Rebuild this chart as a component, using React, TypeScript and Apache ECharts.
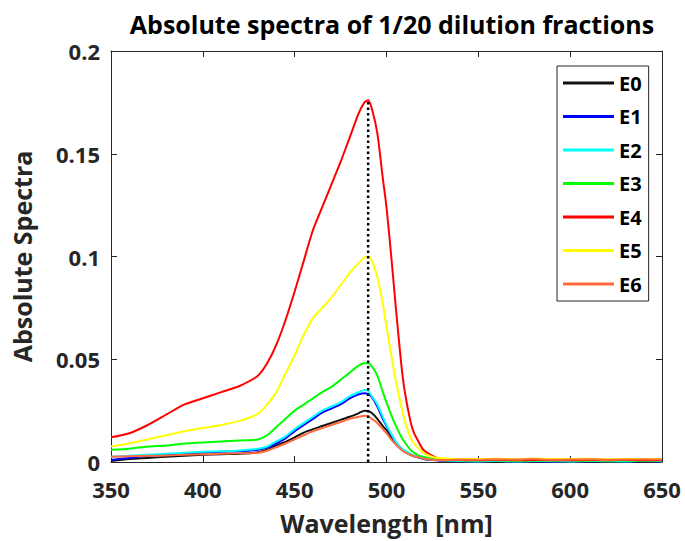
import React, { useEffect, useRef } from "react";
import * as echarts from "echarts";

const wavelengths = [
  350, 360, 370, 380, 390, 400, 410, 420, 430, 435, 440, 445, 450, 455, 460, 465, 470, 475, 480, 485,
  488, 490, 492, 495, 498, 500, 503, 505, 508, 510, 513, 515, 518, 520, 525, 530,
  540, 550, 560, 570, 580, 590, 600, 610, 620, 630, 640, 650,
];

const E0 = [
  0.0005, 0.0015, 0.002, 0.0025, 0.003, 0.0035, 0.0038, 0.004, 0.0048, 0.006, 0.008, 0.0098, 0.012, 0.0143, 0.016, 0.0175, 0.019, 0.0205, 0.022, 0.0238,
  0.025, 0.0248, 0.0238, 0.021, 0.0175, 0.0155, 0.0115, 0.0095, 0.0066, 0.005, 0.0038, 0.003, 0.0022, 0.0018, 0.0012, 0.0008,
  0.0006, 0.0005, 0.0007, 0.0004, 0.0006, 0.0005, 0.0004, 0.0006, 0.0005, 0.0007, 0.0004, 0.0005,
];
const E1 = [
  0.001, 0.002, 0.003, 0.0035, 0.004, 0.0045, 0.005, 0.0052, 0.006, 0.007, 0.009, 0.0115, 0.015, 0.018, 0.021, 0.024, 0.026, 0.028, 0.031, 0.033,
  0.0335, 0.033, 0.0315, 0.027, 0.021, 0.0175, 0.0125, 0.0097, 0.0063, 0.005, 0.0035, 0.0028, 0.002, 0.0015, 0.001, 0.0006,
  0.0004, 0.0003, 0.0005, 0.0003, 0.0004, 0.0002, 0.0004, 0.0003, 0.0005, 0.0003, 0.0004, 0.0003,
];
const E2 = [
  0.0025, 0.003, 0.0035, 0.004, 0.0045, 0.005, 0.0052, 0.0056, 0.0065, 0.0075, 0.01, 0.0125, 0.016, 0.019, 0.022, 0.025, 0.027, 0.029, 0.032, 0.034,
  0.035, 0.0345, 0.032, 0.028, 0.022, 0.018, 0.013, 0.01, 0.0066, 0.0055, 0.004, 0.003, 0.0022, 0.0018, 0.0012, 0.0008,
  0.0005, 0.0003, 0.0006, 0.0002, 0.0005, 0.0004, 0.0003, 0.0005, 0.0004, 0.0003, 0.0006, 0.0004,
];
const E3 = [
  0.006, 0.0065, 0.0075, 0.008, 0.009, 0.0095, 0.01, 0.0105, 0.011, 0.013, 0.017, 0.021, 0.025, 0.028, 0.031, 0.034, 0.0365, 0.04, 0.0435, 0.047,
  0.048, 0.048, 0.0465, 0.042, 0.034, 0.029, 0.022, 0.0178, 0.0123, 0.0095, 0.006, 0.0045, 0.003, 0.0025, 0.0015, 0.001,
  0.0008, 0.0007, 0.0009, 0.0006, 0.0008, 0.0007, 0.0009, 0.0006, 0.0008, 0.0007, 0.0006, 0.0008,
];
const E4 = [
  0.012, 0.014, 0.018, 0.023, 0.028, 0.031, 0.034, 0.037, 0.042, 0.048, 0.057, 0.069, 0.083, 0.098, 0.113, 0.124, 0.135, 0.146, 0.158, 0.17,
  0.175, 0.176, 0.172, 0.16, 0.138, 0.124, 0.096, 0.076, 0.048, 0.034, 0.02, 0.014, 0.009, 0.006, 0.003, 0.0015,
  0.001, 0.0009, 0.0011, 0.0008, 0.001, 0.0009, 0.0008, 0.001, 0.0009, 0.0011, 0.0008, 0.0009,
];
const E5 = [
  0.0075, 0.009, 0.011, 0.013, 0.015, 0.0165, 0.018, 0.02, 0.0235, 0.028, 0.034, 0.043, 0.052, 0.062, 0.07, 0.075, 0.08, 0.086, 0.092, 0.097,
  0.0995, 0.1, 0.098, 0.09, 0.077, 0.066, 0.05, 0.04, 0.027, 0.02, 0.012, 0.009, 0.006, 0.0045, 0.0025, 0.0018,
  0.0015, 0.0014, 0.0016, 0.0013, 0.0017, 0.0014, 0.0015, 0.0016, 0.0013, 0.0015, 0.0014, 0.0015,
];
const E6 = [
  0.0025, 0.0028, 0.003, 0.0032, 0.0035, 0.0038, 0.004, 0.0042, 0.0045, 0.0055, 0.0072, 0.009, 0.011, 0.013, 0.015, 0.0165, 0.018, 0.0195, 0.021, 0.022,
  0.0225, 0.0222, 0.021, 0.019, 0.016, 0.014, 0.0105, 0.0085, 0.006, 0.0048, 0.0035, 0.0028, 0.0022, 0.0017, 0.0011, 0.0008,
  0.0012, 0.0011, 0.0013, 0.0012, 0.0014, 0.0011, 0.0012, 0.0013, 0.0011, 0.0012, 0.0013, 0.0012,
];

const seriesNames = ["E0", "E1", "E2", "E3", "E4", "E5", "E6"];
const seriesValues = [E0, E1, E2, E3, E4, E5, E6];
const seriesColors = ["#111111", "#0000ff", "#00ffff", "#00ff00", "#ff0000", "#ffff00", "#ff6a3d"];

const peakWavelength = 490;
const peakLineTop = 0.176;

const FONT = "'Open Sans', 'Noto Sans', sans-serif";
const AXIS_COLOR = "#262626";

export default function App() {
  const ref = useRef<HTMLDivElement>(null);

  useEffect(() => {
    if (!ref.current) return;
    const chart = echarts.init(ref.current, undefined, { renderer: "svg" });

    const lineSeries = seriesNames.map((name, k) => ({
      name,
      type: "line",
      xAxisIndex: 0,
      yAxisIndex: 0,
      data: wavelengths.map((w, i) => [w, seriesValues[k][i]]),
      showSymbol: false,
      symbol: "none",
      smooth: 0.25,
      lineStyle: { color: seriesColors[k], width: 2 },
      itemStyle: { color: seriesColors[k] },
      z: 2 + k,
    }));

    const axisCommon = {
      type: "value",
      axisLine: { show: true, onZero: false, lineStyle: { color: AXIS_COLOR, width: 1 } },
      axisTick: { show: true, inside: true, length: 6, lineStyle: { color: AXIS_COLOR } },
      splitLine: { show: false },
    };

    const labelStyle = {
      fontFamily: FONT,
      fontWeight: "bold",
      fontSize: 22,
      color: AXIS_COLOR,
    };

    chart.setOption({
      animation: false,
      backgroundColor: "#ffffff",
      title: {
        text: "Absolute spectra of 1/20 dilution fractions",
        left: 387,
        textAlign: "center",
        top: 6,
        textStyle: { fontFamily: FONT, fontWeight: "bold", fontSize: 25, color: "#000000" },
      },
      grid: { left: 111, right: 23, top: 51, bottom: 79, containLabel: false },
      legend: {
        data: seriesNames,
        orient: "vertical",
        left: 557,
        top: 66,
        icon: "rect",
        itemWidth: 51,
        itemHeight: 3,
        itemGap: 13.5,
        padding: [7, 7, 7, 6],
        borderColor: AXIS_COLOR,
        borderWidth: 1,
        backgroundColor: "#ffffff",
        textStyle: { fontFamily: FONT, fontWeight: "bold", fontSize: 20, color: "#000000", lineHeight: 20 },
      },
      xAxis: [
        {
          ...axisCommon,
          position: "bottom",
          min: 350,
          max: 650,
          interval: 50,
          axisLabel: { ...labelStyle, margin: 16 },
          name: "Wavelength [nm]",
          nameLocation: "middle",
          nameGap: 48,
          nameTextStyle: { fontFamily: FONT, fontWeight: "bold", fontSize: 25, color: AXIS_COLOR },
        },
        {
          ...axisCommon,
          position: "top",
          min: 350,
          max: 650,
          interval: 50,
          axisLabel: { show: false },
        },
      ],
      yAxis: [
        {
          ...axisCommon,
          position: "left",
          min: 0,
          max: 0.2,
          interval: 0.05,
          axisLabel: { ...labelStyle, margin: 11 },
          name: "Absolute Spectra",
          nameLocation: "middle",
          nameGap: 77,
          nameRotate: 90,
          nameTextStyle: { fontFamily: FONT, fontWeight: "bold", fontSize: 25, color: AXIS_COLOR },
        },
        {
          ...axisCommon,
          position: "right",
          min: 0,
          max: 0.2,
          interval: 0.05,
          axisLabel: { show: false },
        },
      ],
      series: [
        ...lineSeries,
        {
          name: "peak",
          type: "line",
          xAxisIndex: 0,
          yAxisIndex: 0,
          data: [
            [peakWavelength, 0],
            [peakWavelength, peakLineTop],
          ],
          showSymbol: false,
          symbol: "none",
          lineStyle: { color: "#000000", width: 2.5, type: [2.5, 3] },
          z: 20,
          silent: true,
        },
      ],
    });

    return () => chart.dispose();
  }, []);

  return <div ref={ref} style={{ width: 685, height: 541, position: "absolute", left: 0, top: 0 }} />;
}
